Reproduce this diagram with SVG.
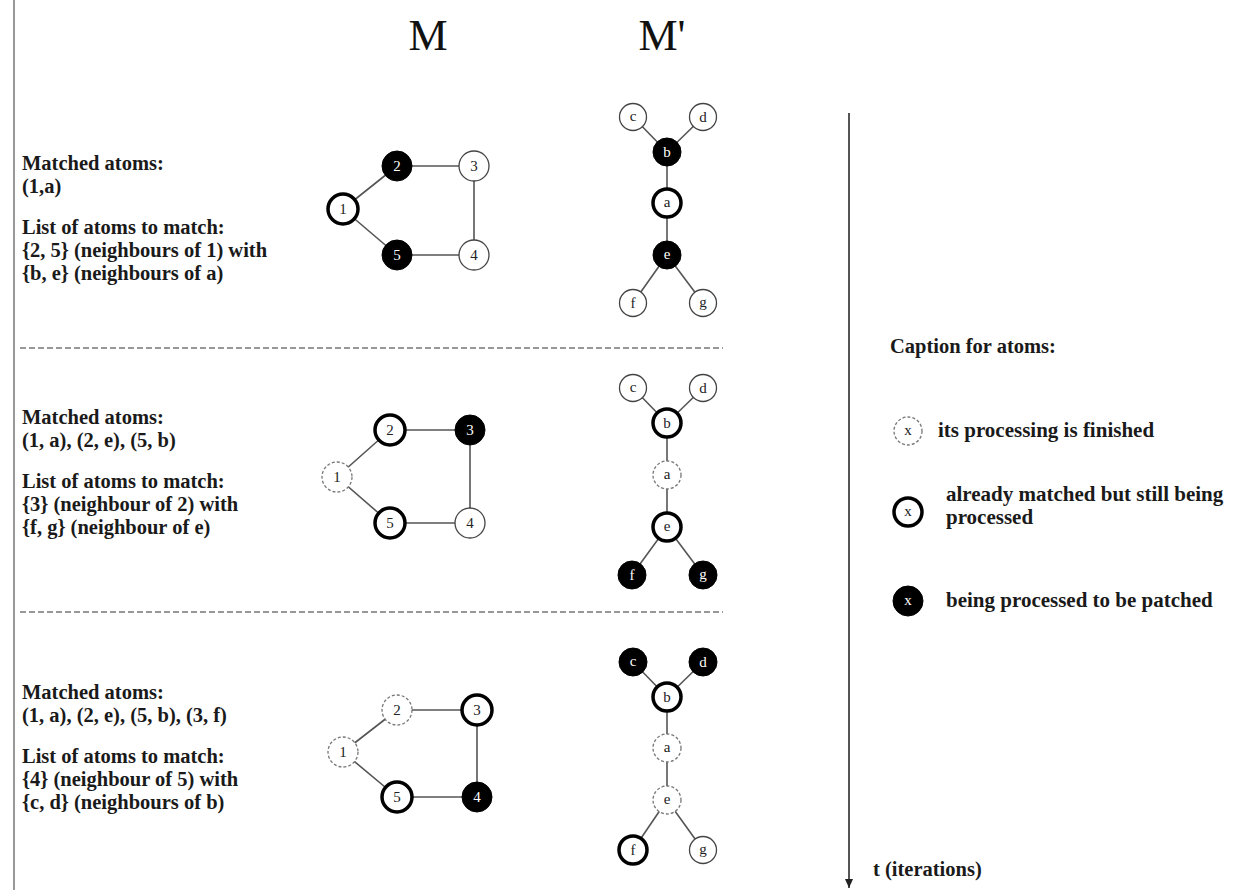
<svg xmlns="http://www.w3.org/2000/svg" width="1238" height="890" viewBox="0 0 1238 890">
<style>
.txt{font-family:"Liberation Serif","Times New Roman",serif;font-weight:bold;font-size:20.5px;fill:#1a1a1a}
.cap{font-family:"Liberation Serif","Times New Roman",serif;font-weight:bold;font-size:21px;fill:#1a1a1a}
.title{font-family:"Liberation Serif","Times New Roman",serif;font-size:44px;fill:#111;text-anchor:middle}
.lbl{font-family:"Liberation Serif","Times New Roman",serif;font-size:15px;fill:#222;text-anchor:middle}
.lblw{font-family:"Liberation Serif","Times New Roman",serif;font-size:15px;fill:#fff;text-anchor:middle}
.thin{fill:#fff;stroke:#444;stroke-width:1.3}
.bold{fill:#fff;stroke:#000;stroke-width:3.5}
.filled{fill:#000;stroke:#000;stroke-width:1}
.dashed{fill:#fff;stroke:#777;stroke-width:1.3;stroke-dasharray:3 2}
.edge{stroke:#555;stroke-width:1.6;fill:none}
.sep{stroke:#777;stroke-width:1.3;stroke-dasharray:6 3}
</style>
<defs>
<marker id="arr" markerWidth="10" markerHeight="10" refX="9" refY="5" orient="auto" markerUnits="userSpaceOnUse">
<path d="M0,1 L9,5 L0,9 Z" fill="#222"/>
</marker>
</defs>
<rect width="1238" height="890" fill="#fff"/>
<line x1="14" y1="0" x2="14" y2="890" stroke="#999" stroke-width="2"/>
<text class="title" x="428" y="50">M</text>
<text class="title" x="662" y="50">M'</text>
<line class="sep" x1="20" y1="348" x2="723" y2="348"/>
<line class="sep" x1="20" y1="612" x2="723" y2="612"/>

<g id="text1">
<text class="txt" x="22" y="170">Matched atoms:</text>
<text class="txt" x="22" y="193">(1,a)</text>
<text class="txt" x="22" y="234">List of atoms to match:</text>
<text class="txt" x="22" y="257">{2, 5} (neighbours of 1) with</text>
<text class="txt" x="22" y="280">{b, e} (neighbours of a)</text>
</g>
<g id="text2">
<text class="txt" x="22" y="424">Matched atoms:</text>
<text class="txt" x="22" y="447">(1, a), (2, e), (5, b)</text>
<text class="txt" x="22" y="488">List of atoms to match:</text>
<text class="txt" x="22" y="511">{3} (neighbour of 2) with</text>
<text class="txt" x="22" y="534">{f, g} (neighbour of e)</text>
</g>
<g id="text3">
<text class="txt" x="22" y="699">Matched atoms:</text>
<text class="txt" x="22" y="722">(1, a), (2, e), (5, b), (3, f)</text>
<text class="txt" x="22" y="763">List of atoms to match:</text>
<text class="txt" x="22" y="786">{4} (neighbour of 5) with</text>
<text class="txt" x="22" y="809">{c, d} (neighbours of b)</text>
</g>

<g id="connectors">
<path class="edge" d="M343,209 L397,166 M343,209 L397,255 M397,166 L474,166 M474,166 L474,255 M397,255 L474,255"/>
<path class="edge" d="M633,117 L667,152 M703,117 L667,152 M667,152 L667,255 M667,255 L633,303 M667,255 L703,303"/>
<path class="edge" d="M337,477 L390,430 M337,477 L390,523 M390,430 L470,430 M470,430 L470,523 M390,523 L470,523"/>
<path class="edge" d="M633,388 L667,423 M703,388 L667,423 M667,423 L667,527 M667,527 L632,575 M667,527 L703,575"/>
<path class="edge" d="M343,752 L397,710 M343,752 L397,797 M397,710 L477,710 M477,710 L477,797 M397,797 L477,797"/>
<path class="edge" d="M633,662 L667,697 M703,662 L667,697 M667,697 L667,800 M667,800 L633,850 M667,800 L703,850"/>
<line x1="849" y1="113" x2="849" y2="888" stroke="#555" stroke-width="2" marker-end="url(#arr)"/>
</g>

<g id="s1-m1"><circle class="bold" cx="343" cy="209" r="15"/><text class="lbl" x="343" y="214">1</text></g>
<g id="s1-m2"><circle class="filled" cx="397" cy="166" r="15"/><text class="lblw" x="397" y="171">2</text></g>
<g id="s1-m3"><circle class="thin" cx="474" cy="166" r="15"/><text class="lbl" x="474" y="171">3</text></g>
<g id="s1-m4"><circle class="thin" cx="474" cy="255" r="15"/><text class="lbl" x="474" y="260">4</text></g>
<g id="s1-m5"><circle class="filled" cx="397" cy="255" r="15"/><text class="lblw" x="397" y="260">5</text></g>
<g id="s1-c"><circle class="thin" cx="633" cy="117" r="13.5"/><text class="lbl" x="633" y="121">c</text></g>
<g id="s1-d"><circle class="thin" cx="703" cy="117" r="13.5"/><text class="lbl" x="703" y="122">d</text></g>
<g id="s1-b"><circle class="filled" cx="667" cy="152" r="14"/><text class="lblw" x="667" y="157">b</text></g>
<g id="s1-a"><circle class="bold" cx="667" cy="203" r="14"/><text class="lbl" x="667" y="207">a</text></g>
<g id="s1-e"><circle class="filled" cx="667" cy="255" r="14"/><text class="lblw" x="667" y="259">e</text></g>
<g id="s1-f"><circle class="thin" cx="633" cy="303" r="13.5"/><text class="lbl" x="633" y="308">f</text></g>
<g id="s1-g"><circle class="thin" cx="703" cy="303" r="13.5"/><text class="lbl" x="703" y="307">g</text></g>

<g id="s2-m1"><circle class="dashed" cx="337" cy="477" r="15"/><text class="lbl" x="337" y="482">1</text></g>
<g id="s2-m2"><circle class="bold" cx="390" cy="430" r="15"/><text class="lbl" x="390" y="435">2</text></g>
<g id="s2-m3"><circle class="filled" cx="470" cy="430" r="15"/><text class="lblw" x="470" y="435">3</text></g>
<g id="s2-m4"><circle class="thin" cx="470" cy="523" r="15"/><text class="lbl" x="470" y="528">4</text></g>
<g id="s2-m5"><circle class="bold" cx="390" cy="523" r="15"/><text class="lbl" x="390" y="528">5</text></g>
<g id="s2-c"><circle class="thin" cx="633" cy="388" r="13.5"/><text class="lbl" x="633" y="392">c</text></g>
<g id="s2-d"><circle class="thin" cx="703" cy="388" r="13.5"/><text class="lbl" x="703" y="393">d</text></g>
<g id="s2-b"><circle class="bold" cx="667" cy="423" r="14"/><text class="lbl" x="667" y="428">b</text></g>
<g id="s2-a"><circle class="dashed" cx="667" cy="475" r="14"/><text class="lbl" x="667" y="479">a</text></g>
<g id="s2-e"><circle class="bold" cx="667" cy="527" r="14"/><text class="lbl" x="667" y="531">e</text></g>
<g id="s2-f"><circle class="filled" cx="632" cy="575" r="14"/><text class="lblw" x="632" y="580">f</text></g>
<g id="s2-g"><circle class="filled" cx="703" cy="575" r="14"/><text class="lblw" x="703" y="579">g</text></g>

<g id="s3-m1"><circle class="dashed" cx="343" cy="752" r="15"/><text class="lbl" x="343" y="757">1</text></g>
<g id="s3-m2"><circle class="dashed" cx="397" cy="710" r="15"/><text class="lbl" x="397" y="715">2</text></g>
<g id="s3-m3"><circle class="bold" cx="477" cy="710" r="15"/><text class="lbl" x="477" y="715">3</text></g>
<g id="s3-m4"><circle class="filled" cx="477" cy="797" r="15"/><text class="lblw" x="477" y="802">4</text></g>
<g id="s3-m5"><circle class="bold" cx="397" cy="797" r="15"/><text class="lbl" x="397" y="802">5</text></g>
<g id="s3-c"><circle class="filled" cx="633" cy="662" r="14"/><text class="lblw" x="633" y="666">c</text></g>
<g id="s3-d"><circle class="filled" cx="703" cy="662" r="14"/><text class="lblw" x="703" y="667">d</text></g>
<g id="s3-b"><circle class="bold" cx="667" cy="697" r="14"/><text class="lbl" x="667" y="702">b</text></g>
<g id="s3-a"><circle class="dashed" cx="667" cy="748" r="14"/><text class="lbl" x="667" y="752">a</text></g>
<g id="s3-e"><circle class="dashed" cx="667" cy="800" r="14"/><text class="lbl" x="667" y="804">e</text></g>
<g id="s3-f"><circle class="bold" cx="633" cy="850" r="14"/><text class="lbl" x="633" y="855">f</text></g>
<g id="s3-g"><circle class="thin" cx="703" cy="850" r="13.5"/><text class="lbl" x="703" y="854">g</text></g>

<g id="legend">
<text class="txt" x="890" y="353">Caption for atoms:</text>
<g id="leg-finished"><circle class="dashed" cx="908" cy="431" r="14"/><text class="lbl" x="908" y="435" font-size="12">x</text><text class="cap" x="938" y="437">its processing is finished</text></g>
<g id="leg-matched"><circle class="bold" cx="908" cy="512" r="14"/><text class="lbl" x="908" y="516" font-size="12">x</text><text class="cap" x="946" y="501">already matched but still being</text><text class="cap" x="946" y="524">processed</text></g>
<g id="leg-patched"><circle class="filled" cx="908" cy="601" r="15"/><text class="lblw" x="908" y="605" font-size="12">x</text><text class="cap" x="946" y="607">being processed to be patched</text></g>
<text class="txt" x="873" y="876">t (iterations)</text>
</g>
</svg>
